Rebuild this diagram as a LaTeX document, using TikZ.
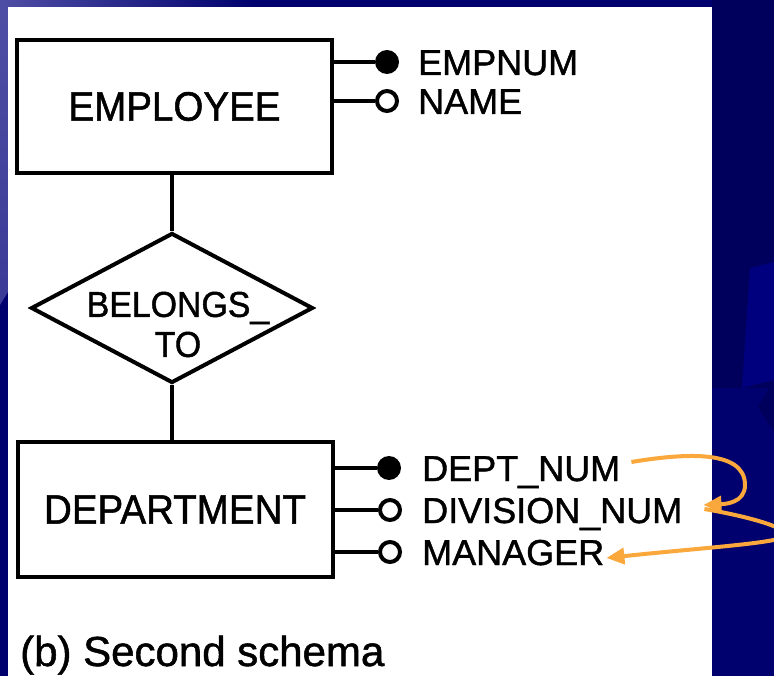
\documentclass[tikz,border=0pt]{standalone}
\usepackage{fontspec}
\setmainfont{Liberation Sans}[FakeBold=1.2]
\newfontfamily\boxfont{Liberation Sans}[FakeBold=1.2, FakeStretch=0.94]
\usetikzlibrary{shapes.geometric,arrows.meta,calc}
\definecolor{slatenavy}{RGB}{0,0,110}
\definecolor{deepnavy}{RGB}{0,0,92}
\definecolor{midnavy}{RGB}{0,0,126}
\definecolor{haze}{RGB}{78,78,165}
\definecolor{marker}{RGB}{250,168,60}
\begin{document}
\begin{tikzpicture}[x=1pt,y=-1pt,
  entity/.style={draw, line width=4pt, minimum width=315pt, minimum height=133pt,
    inner sep=0pt, font=\boxfont\fontsize{41}{41}\selectfont},
  relship/.style={draw, diamond, line width=4pt, minimum width=282pt,
    minimum height=150pt, inner sep=0pt},
  attr/.style={anchor=base west, inner sep=0pt, font=\fontsize{36}{36}\selectfont},
  keydot/.style={circle, fill=black, minimum size=24pt, inner sep=0pt},
  optdot/.style={circle, draw=black, fill=white, line width=4pt, minimum size=20pt,
    inner sep=0pt},
  link/.style={line width=3.5pt},
  note/.style={draw=marker, line width=4pt, -{Triangle[length=18pt,width=16pt]}},
]
\useasboundingbox (0,0) rectangle (774,676);
\clip (0,0) rectangle (774,676);

% slide background
\fill[slatenavy] (0,0) rectangle (774,676);
\fill[deepnavy] (712,0) rectangle (774,388);
\fill[midnavy] (750,268) -- (774,262) -- (774,380) -- (742,388) -- cycle;
\fill[deepnavy] (758,407) -- (774,380) -- (774,432) -- cycle;
\shade[top color=haze, bottom color=haze!75!slatenavy]
  (0,0) -- (8,0) -- (8,292) -- (0,305) -- cycle;
\shade[left color=haze, right color=slatenavy] (0,0) rectangle (256,7);

% page
\fill[white] (8,7) rectangle (712,676);

% entities and relationship
\node[entity] (emp) at (174.5,106.5) {EMPLOYEE};
\node[relship] (rel) at (172,308) {};
\node[font=\boxfont\fontsize{36}{40}\selectfont, align=center, inner sep=0pt] (relname)
  at (178,324.5) {BELONGS\_\\TO};
\node[entity, minimum height=135pt] (dept) at (175,509.5) {DEPARTMENT};

\draw[link] (rel.north) -- (rel.north |- emp.south);
\draw[link] (rel.south) -- (rel.south |- dept.north);

% attributes
\node[keydot] (k1) at (387,62) {};
\node[optdot] (o1) at (387,101) {};
\node[keydot] (k2) at (389,468) {};
\node[optdot] (o2) at (390,510) {};
\node[optdot] (o3) at (390,552) {};

\node[attr] (empnum) at (418,75) {EMPNUM};
\node[attr] (name) at (418,114) {NAME};
\node[attr] (deptnum) at (422,481) {DEPT\_NUM};
\node[attr] (divnum) at (422,523) {DIVISION\_NUM};
\node[attr] (mgr) at (422,565) {MANAGER};

\draw[link] (emp.east |- k1) -- (k1);
\draw[link] (emp.east |- o1) -- (o1);
\draw[link] (dept.east |- k2) -- (k2);
\draw[link] (dept.east |- o2) -- (o2);
\draw[link] (dept.east |- o3) -- (o3);

% hand-drawn dependency arrows
\draw[note] ($(deptnum.base east)+(11,-19)$) .. controls (680,454) and (745,448) ..
  (745,485) .. controls (745,503) and (725,504) .. ($(divnum.base east)+(21,-18)$);
\draw[note] ($(divnum.base east)+(22,-14)$) .. controls (740,515) and (790,527) ..
  (785,536) .. controls (780,543) and (700,548) .. ($(mgr.base east)+(2,-7)$);

% caption
\node[anchor=base west, inner sep=0pt, font=\fontsize{42}{42}\selectfont] (cap)
  at (20,666) {(b) Second schema};
\end{tikzpicture}
\end{document}
